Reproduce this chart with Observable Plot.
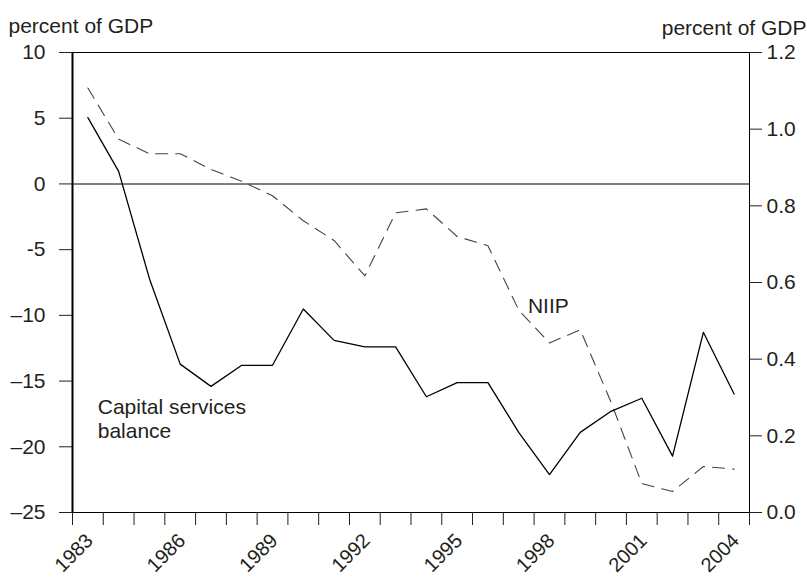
<!DOCTYPE html>
<html><head><meta charset="utf-8">
<script src="https://cdn.jsdelivr.net/npm/d3@7"></script>
<script src="https://cdn.jsdelivr.net/npm/@observablehq/plot@0.6"></script>
<style>
body{margin:0;background:#fff;}
</style></head><body><div id="chart"></div>
<script>
const years = [1983,1984,1985,1986,1987,1988,1989,1990,1991,1992,1993,1994,1995,1996,1997,1998,1999,2000,2001,2002,2003,2004];
// NIIP, percent of GDP (left axis)
const niip = [7.3,3.4,2.3,2.3,1.1,0.2,-0.9,-2.8,-4.3,-7.0,-2.2,-1.9,-4.0,-4.7,-9.6,-12.1,-11.1,-16.6,-22.8,-23.4,-21.5,-21.7];
// Capital services balance, percent of GDP (right axis)
const capitalServices = [1.03,0.89,0.61,0.387,0.329,0.384,0.384,0.531,0.449,0.432,0.432,0.302,0.339,0.339,0.209,0.099,0.209,0.264,0.298,0.147,0.470,0.309];
const leftTicks = [10,5,0,-5,-10,-15,-20,-25];
const leftTickLabels = ["10","5","0","-5","\u201310","\u201315","\u201320","\u201325"];
const rightTicks = [0,0.2,0.4,0.6,0.8,1.0,1.2];
const rightTickLabels = ["0.0","0.2","0.4","0.6","0.8","1.0","1.2"];
const xTickYears = d3.range(1983, 2006);
const xLabelYears = [1983,1986,1989,1992,1995,1998,2001,2004];
const axisTitle = "percent of GDP";
const seriesLabels = ["NIIP", "Capital services\nbalance"];

const leftDomain = [-25, 10];
const rightDomain = [0, 1.2];
const toLeft = r => leftDomain[0] + (r - rightDomain[0]) / (rightDomain[1] - rightDomain[0]) * (leftDomain[1] - leftDomain[0]);
const rightPos = rightTicks.map(toLeft);

const rows = years.map((yr, i) => ({year: yr, niip: niip[i], cs: capitalServices[i]}));

const FONT = "'Liberation Sans', Arial, Helvetica, sans-serif";
const FS = 21;
const INK = "#231f20";

const chart = Plot.plot({
  width: 807,
  height: 581,
  marginLeft: 72,
  marginRight: 58,
  marginTop: 52,
  marginBottom: 69,
  style: {fontFamily: FONT, fontSize: FS + "px", color: INK, background: "#fff"},
  x: {domain: [1983, 2005]},
  y: {domain: leftDomain},
  marks: [
    Plot.frame({stroke: "#000", strokeWidth: 1}),
    Plot.ruleY([0], {stroke: "#000", strokeWidth: 1.1}),
    Plot.ruleX([1983], {stroke: "#000", strokeWidth: 2}),
    Plot.axisY(leftTicks, {anchor: "left", tickSize: 13, tickPadding: 14, fontSize: FS, fill: INK,
      tickFormat: d => leftTickLabels[leftTicks.indexOf(d)], label: null}),
    Plot.axisY(rightPos, {anchor: "right", tickSize: 12, tickPadding: 5, fontSize: FS, fill: INK,
      tickFormat: d => rightTickLabels[rightPos.indexOf(d)], label: null}),
    Plot.axisX(xTickYears, {anchor: "bottom", tickSize: 13, tickFormat: () => "", label: null}),
    Plot.text(xLabelYears, {x: d => d, frameAnchor: "bottom", dy: 45, dx: 6, rotate: -45,
      text: d => String(d), fontSize: 20, fill: INK}),
    Plot.line(rows, {x: d => d.year + 0.5, y: "niip", stroke: "#444", strokeWidth: 1.1, strokeDasharray: "12,8"}),
    Plot.line(rows, {x: d => d.year + 0.5, y: d => toLeft(d.cs), stroke: "#000", strokeWidth: 1.3}),
    Plot.text([seriesLabels[0]], {x: 1997.8, y: -9.3, textAnchor: "start", fontSize: FS, fill: INK}),
    Plot.text([seriesLabels[1]], {x: 1983.82, y: -16.2, textAnchor: "start", lineAnchor: "top", lineHeight: 1.15, fontSize: FS, fill: INK}),
    Plot.text([axisTitle], {frameAnchor: "top-left", dx: -64, dy: -34, textAnchor: "start", fontSize: FS, fill: INK}),
    Plot.text([axisTitle], {frameAnchor: "top-right", dx: 57, dy: -32, textAnchor: "end", fontSize: FS, fill: INK})
  ]
});
document.getElementById("chart").appendChild(chart);
</script></body></html>
